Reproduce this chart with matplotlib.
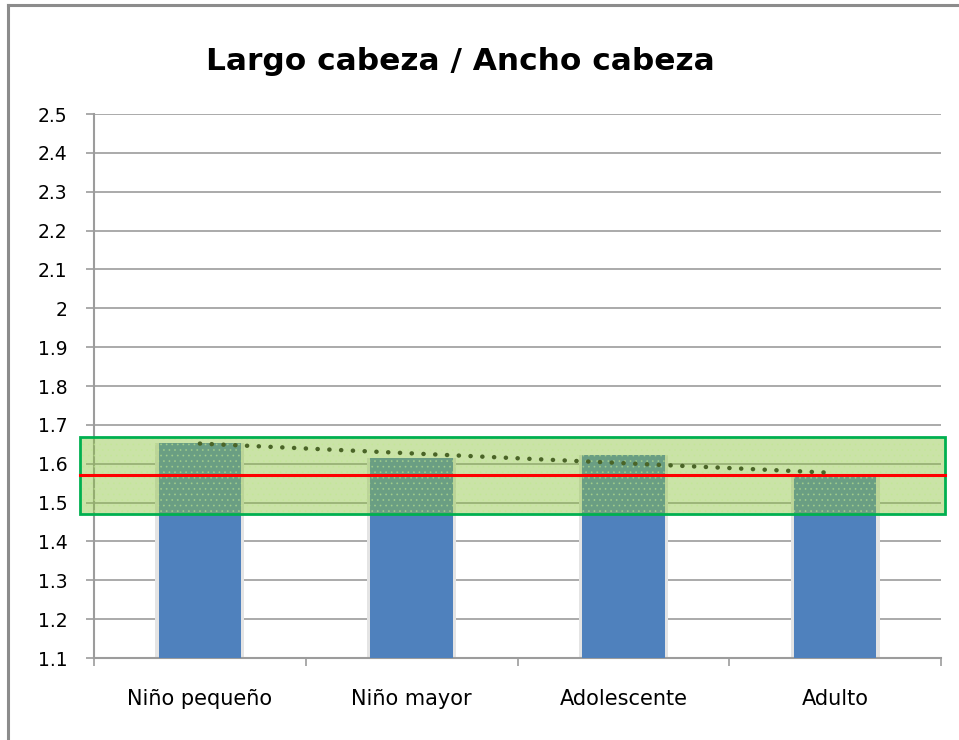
import numpy as np
import matplotlib
matplotlib.use("Agg")
import matplotlib.pyplot as plt
from matplotlib.patches import Rectangle
from matplotlib.lines import Line2D

categories = ["Niño pequeño", "Niño mayor", "Adolescente", "Adulto"]
ratios = [1.653, 1.614, 1.623, 1.566]
reference_value = 1.571
band_low, band_high = 1.47, 1.67
y_ticks = [1.1, 1.2, 1.3, 1.4, 1.5, 1.6, 1.7, 1.8, 1.9, 2.0,
           2.1, 2.2, 2.3, 2.4, 2.5]

plt.rcParams["font.family"] = ["DejaVu Sans"]
plt.rcParams["hatch.linewidth"] = 0.6

fig = plt.figure(figsize=(9.59, 7.40), dpi=100)
ax = fig.add_axes([94 / 959, 82 / 740, 847 / 959, 544 / 740])

x = np.arange(len(categories))
grey = "#9c9c9c"

# bars with a faint shadow behind
ax.bar(x, np.array(ratios) - 1.1, bottom=1.1, width=0.42, color="#e4e4e4",
       zorder=2)
ax.bar(x, np.array(ratios) - 1.1, bottom=1.1, width=0.39, color="#4f81bd",
       zorder=3)

ax.set_xlim(-0.5, 3.5)
ax.set_ylim(1.1, 2.5)
ax.set_yticks(y_ticks)
ax.set_yticklabels([f"{v:g}" for v in y_ticks])
ax.yaxis.grid(True, color=grey, linewidth=1.2, zorder=1)
ax.set_axisbelow(True)

# category boundaries as ticks, names centred between them
ax.set_xticks(np.arange(-0.5, 4.0, 1.0))
ax.set_xticklabels([])
ax.set_xticks(x, minor=True)
ax.set_xticklabels(categories, minor=True)
ax.tick_params(axis="x", which="major", length=6, color=grey, width=1.2)
ax.tick_params(axis="x", which="minor", length=0, pad=22, labelsize=15)
ax.tick_params(axis="y", length=6, color=grey, width=1.2, pad=13,
               labelsize=13.5)

for side in ["top", "right"]:
    ax.spines[side].set_visible(False)
for side in ["left", "bottom"]:
    ax.spines[side].set_color(grey)
    ax.spines[side].set_linewidth(1.5)

# reference band across the plot
trans = ax.get_yaxis_transform()
band_fill = Rectangle((-0.0165, band_low), 1.0212, band_high - band_low,
                      transform=trans, facecolor="#8cc240", alpha=0.46,
                      edgecolor="#c0e890", hatch="...", linewidth=0,
                      clip_on=False, zorder=4)
band_edge = Rectangle((-0.0165, band_low), 1.0212, band_high - band_low,
                      transform=trans, facecolor="none", edgecolor="#00b050",
                      linewidth=2, clip_on=False, zorder=6)
ax.add_patch(band_fill)
ax.add_patch(band_edge)

ax.plot([-0.0165, 1.0047], [reference_value, reference_value],
        transform=trans, color="#ff0000", linewidth=2.2, clip_on=False,
        zorder=6)

# linear trend of the bar values
coef = np.polyfit(x, ratios, 1)
xt = np.linspace(0, 3, 100)
ax.plot(xt, np.polyval(coef, xt), color="#4a6427", linewidth=3.2,
        linestyle=(0, (0.05, 2.6)), dash_capstyle="round", zorder=7)

fig.text(460 / 959, 1 - 70 / 740, "Largo cabeza / Ancho cabeza",
         ha="center", va="baseline", fontsize=22.5, fontweight="bold")

# outer chart border
fig.add_artist(Line2D([8 / 959, 1], [1 - 5 / 740, 1 - 5 / 740],
                      color="#8c8c8c", linewidth=2.2))
fig.add_artist(Line2D([8 / 959, 8 / 959], [0, 1 - 5 / 740],
                      color="#8c8c8c", linewidth=2.2))

fig.savefig("out.png", dpi=100)
